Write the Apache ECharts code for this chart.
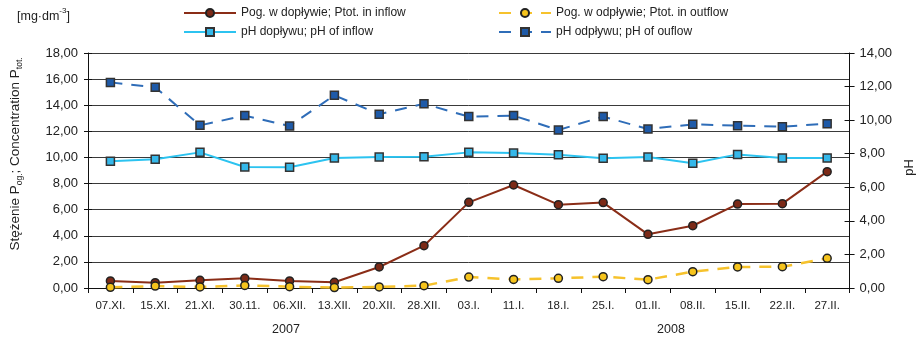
<!DOCTYPE html>
<html>
<head>
<meta charset="utf-8">
<script src="https://cdn.jsdelivr.net/npm/echarts@6/dist/echarts.min.js"></script>
<style>
  html, body { margin: 0; padding: 0; background: #fff; }
  #chart { width: 924px; height: 342px; }
</style>
</head>
<body>
<div id="chart"></div>
<script>
// Sampling dates (Nov 2007 – Feb 2008)
const dates = ['07.XI.', '15.XI.', '21.XI.', '30.11.', '06.XII.', '13.XII.', '20.XII.', '28.XII.',
  '03.I.', '11.I.', '18.I.', '25.I.', '01.II.', '08.II.', '15.II.', '22.II.', '27.II.'];

// Total phosphorus, mg/dm3 (left axis)
const pInflow  = [0.54, 0.41, 0.59, 0.74, 0.54, 0.44, 1.61, 3.24, 6.56, 7.89, 6.38, 6.54, 4.11, 4.77, 6.43, 6.46, 8.91];
const pOutflow = [0.05, 0.15, 0.08, 0.20, 0.10, 0.03, 0.08, 0.18, 0.84, 0.66, 0.74, 0.87, 0.64, 1.25, 1.61, 1.63, 2.27];

// pH (right axis)
const phInflow  = [7.55, 7.67, 8.08, 7.21, 7.19, 7.74, 7.80, 7.82, 8.08, 8.04, 7.94, 7.73, 7.80, 7.43, 7.96, 7.74, 7.74];
const phOutflow = [12.25, 11.96, 9.69, 10.27, 9.65, 11.48, 10.35, 10.98, 10.21, 10.27, 9.41, 10.21, 9.47, 9.75, 9.67, 9.61, 9.79];

const seriesNames = [
  'Pog. w dopływie; Ptot. in inflow',
  'Pog. w odpływie; Ptot. in outflow',
  'pH dopływu; pH of inflow',
  'pH odpływu; pH of ouflow'
];
const yearLabels = ['2007', '2008'];

const FONT = 'Liberation Sans, Arial, sans-serif';
const TXT = '#222';
const fmt = v => v.toFixed(2).replace('.', ',');

const chart = echarts.init(document.getElementById('chart'), null, { renderer: 'canvas' });

function legendAt(name, left, top) {
  return {
    data: [name], left: left, top: top, orient: 'horizontal',
    itemWidth: 52, itemHeight: 10, itemGap: 0, padding: 0, selectedMode: false,
    textStyle: { fontFamily: FONT, fontSize: 12, color: TXT }
  };
}

const option = {
  animation: false,
  backgroundColor: '#fff',
  grid: { left: 88, right: 63, top: 53, bottom: 54, containLabel: false },
  legend: [
    legendAt(seriesNames[0], 183, 7),
    legendAt(seriesNames[1], 498, 7),
    legendAt(seriesNames[2], 183, 26),
    legendAt(seriesNames[3], 498, 26)
  ],
  xAxis: {
    type: 'category', data: dates, boundaryGap: true,
    axisLine: { lineStyle: { color: '#111', width: 1 } },
    axisTick: { show: true, length: 5, lineStyle: { color: '#111' } },
    axisLabel: { fontFamily: FONT, fontSize: 11.5, color: TXT, margin: 12, interval: 0 }
  },
  yAxis: [
    {
      type: 'value', min: 0, max: 18, interval: 2, position: 'left',
      axisLine: { show: true, lineStyle: { color: '#111' } },
      axisTick: { show: true, length: 4, lineStyle: { color: '#111' } },
      axisLabel: { fontFamily: FONT, fontSize: 13, color: TXT, margin: 10, formatter: fmt },
      splitLine: { show: true, lineStyle: { color: '#3a3a3a', width: 1 } }
    },
    {
      type: 'value', min: 0, max: 14, interval: 2, position: 'right',
      name: 'pH', nameLocation: 'middle', nameGap: 50, nameRotate: 90,
      nameTextStyle: { fontFamily: FONT, fontSize: 13, color: TXT, padding: [0, 0, 0, 6] },
      axisLine: { show: true, lineStyle: { color: '#111' } },
      axisTick: { show: true, length: 5, lineStyle: { color: '#111' } },
      axisLabel: { fontFamily: FONT, fontSize: 13, color: TXT, margin: 10, formatter: fmt },
      splitLine: { show: false }
    },
    {
      // inner half of the crossing tick marks on the left axis
      type: 'value', min: 0, max: 18, interval: 2, position: 'left',
      axisLine: { show: false }, axisLabel: { show: false }, splitLine: { show: false },
      axisTick: { show: true, inside: true, length: 4, lineStyle: { color: '#111' } }
    },
    {
      // inner half of the crossing tick marks on the right axis
      type: 'value', min: 0, max: 14, interval: 2, position: 'right',
      axisLine: { show: false }, axisLabel: { show: false }, splitLine: { show: false },
      axisTick: { show: true, inside: true, length: 5, lineStyle: { color: '#111' } }
    }
  ],
  series: [
    {
      name: seriesNames[0], type: 'line', yAxisIndex: 0, data: pInflow,
      symbol: 'circle', symbolSize: 8,
      lineStyle: { color: '#8a2d17', width: 2 },
      itemStyle: { color: '#7c2a17', borderColor: '#222', borderWidth: 1.5 },
      z: 3
    },
    {
      name: seriesNames[1], type: 'line', yAxisIndex: 0, data: pOutflow,
      symbol: 'circle', symbolSize: 8,
      lineStyle: { color: '#f6c22c', width: 2.5, type: [12, 9] },
      itemStyle: { color: '#f6c41c', borderColor: '#222', borderWidth: 1.5 },
      z: 3
    },
    {
      name: seriesNames[2], type: 'line', yAxisIndex: 1, data: phInflow,
      symbol: 'rect', symbolSize: 8,
      lineStyle: { color: '#2cc3f0', width: 2 },
      itemStyle: { color: '#35b8ea', borderColor: '#333', borderWidth: 1.5 },
      z: 3
    },
    {
      name: seriesNames[3], type: 'line', yAxisIndex: 1, data: phOutflow,
      symbol: 'rect', symbolSize: 8,
      lineStyle: { color: '#2f6db8', width: 2, type: [12, 9] },
      itemStyle: { color: '#1e5aa8', borderColor: '#333', borderWidth: 1.5 },
      z: 3
    }
  ],
  graphic: [
    {
      type: 'text', left: 17, top: 7,
      style: {
        text: '{n|[mg·dm}{s|-3}{n|]}',
        rich: {
          n: { fontFamily: FONT, fontSize: 12.5, fill: TXT, lineHeight: 16, verticalAlign: 'bottom' },
          s: { fontFamily: FONT, fontSize: 8, fill: TXT, lineHeight: 16, verticalAlign: 'top' }
        }
      }
    },
    {
      type: 'text', x: 15, y: 154, rotation: Math.PI / 2,
      style: {
        text: '{n|Stężenie P}{s|og.}{n|; Concentration P}{s|tot.}',
        align: 'center', verticalAlign: 'middle',
        rich: {
          n: { fontFamily: FONT, fontSize: 13.5, fill: TXT, lineHeight: 19, verticalAlign: 'middle' },
          s: { fontFamily: FONT, fontSize: 8.5, fill: TXT, lineHeight: 19, verticalAlign: 'bottom' }
        }
      }
    },
    {
      type: 'text', x: 286, y: 330,
      style: { text: yearLabels[0], align: 'center', verticalAlign: 'middle', fontFamily: FONT, fontSize: 12.5, fill: TXT }
    },
    {
      type: 'text', x: 671, y: 330,
      style: { text: yearLabels[1], align: 'center', verticalAlign: 'middle', fontFamily: FONT, fontSize: 12.5, fill: TXT }
    }
  ]
};

chart.setOption(option);
</script>
</body>
</html>
